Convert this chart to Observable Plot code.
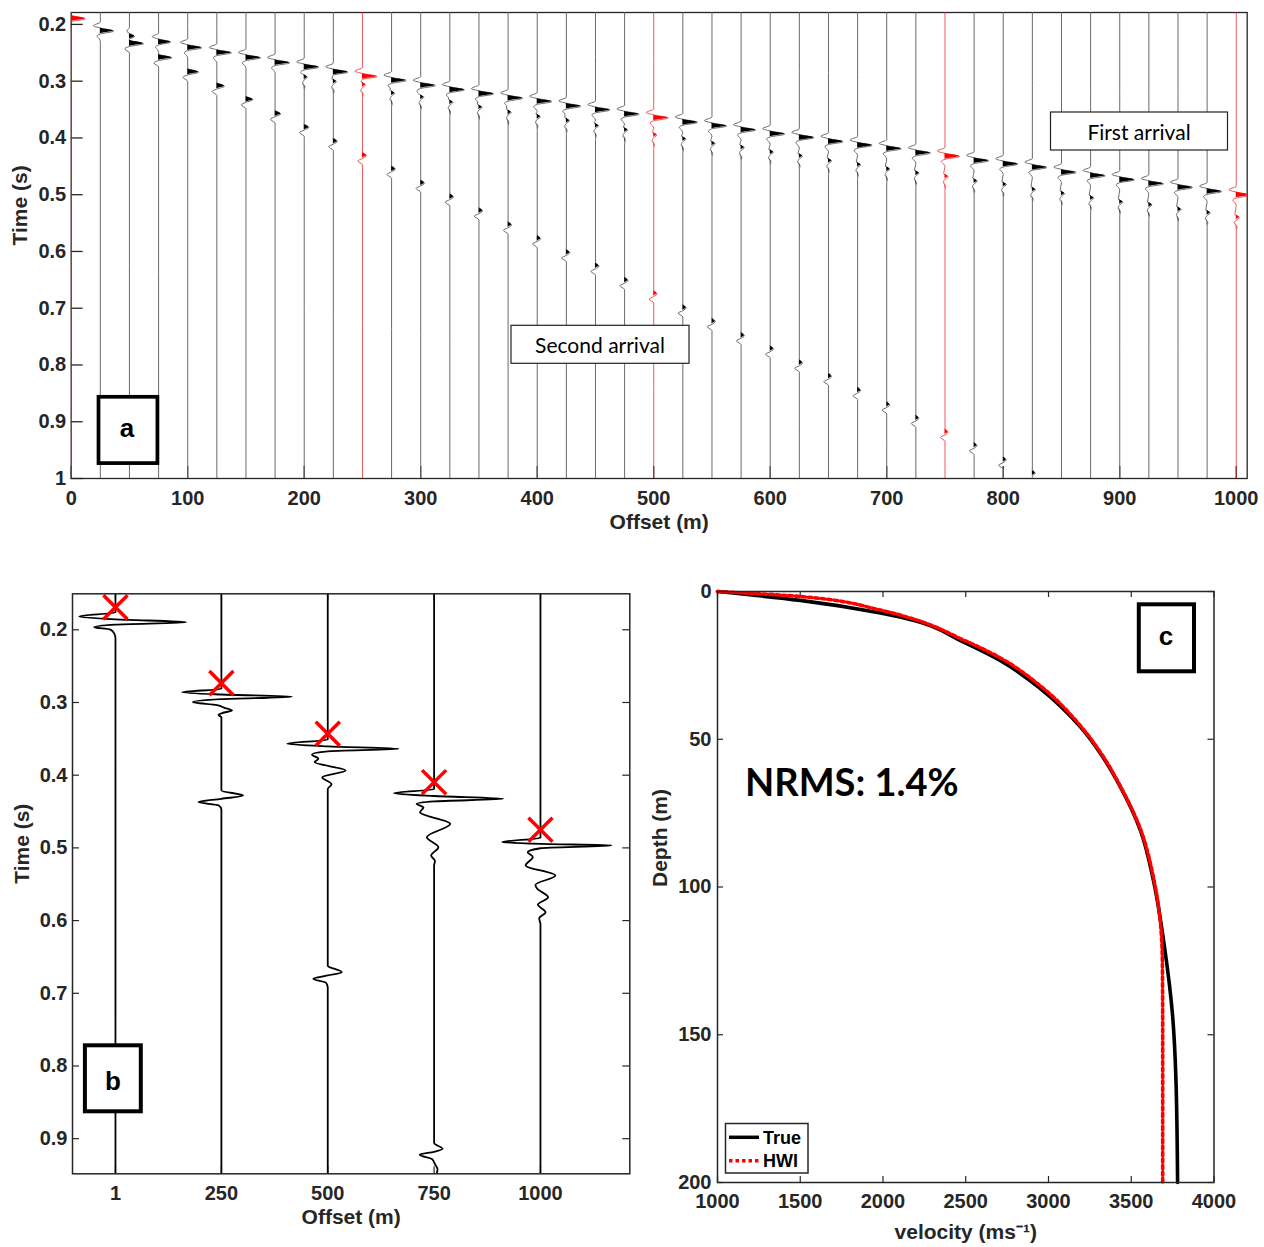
<!DOCTYPE html>
<html>
<head>
<meta charset="utf-8">
<script src="https://cdn.jsdelivr.net/npm/d3@7"></script>
<script src="https://cdn.jsdelivr.net/npm/@observablehq/plot@0.6"></script>
<style>
  body { margin: 0; background: #fff; }
  #wrap { position: relative; width: 1264px; height: 1247px; overflow: hidden; background: #fff; }
  .panel { position: absolute; }
  #overlay { position: absolute; left: 0; top: 0; }
</style>
</head>
<body>
<div id="wrap">
  <div id="pa" class="panel" style="left:0px;top:0px"></div>
  <div id="pb" class="panel" style="left:0px;top:560px"></div>
  <div id="pc" class="panel" style="left:640px;top:560px"></div>
  <svg id="overlay" width="1264" height="1247">
    <g font-family="Liberation Sans, Arial, sans-serif" font-weight="bold" font-size="26" text-anchor="middle" fill="#000">
      <rect x="98.5" y="396.8" width="58.9" height="66.3" fill="#fff" stroke="#000" stroke-width="3.7"/>
      <text x="127" y="437">a</text>
      <rect x="84.9" y="1045.3" width="55.9" height="66" fill="#fff" stroke="#000" stroke-width="4"/>
      <text x="113" y="1090">b</text>
      <rect x="1138.8" y="604.3" width="55.2" height="67" fill="#fff" stroke="#000" stroke-width="4"/>
      <text x="1166" y="645">c</text>
    </g>
    <g font-family="Lato, 'Open Sans', sans-serif" font-size="21" text-anchor="middle" fill="#000">
      <rect x="1050.5" y="112" width="177" height="38" fill="#fff" stroke="#222" stroke-width="1.2"/>
      <text x="1139" y="139.5">First arrival</text>
      <rect x="511" y="325.3" width="178" height="38" fill="#fff" stroke="#222" stroke-width="1.2"/>
      <text x="600" y="352.5">Second arrival</text>
    </g>
    <text x="745" y="796" font-family="Lato, 'Open Sans', sans-serif" font-weight="bold" font-size="38" fill="#000">NRMS: 1.4%</text>
    <g font-family="Liberation Sans, Arial, sans-serif" font-weight="bold" font-size="18" fill="#000">
      <rect x="725.5" y="1123.5" width="82.5" height="49.5" fill="#fff" stroke="#262626" stroke-width="1.5"/>
      <line x1="729" x2="759" y1="1137.3" y2="1137.3" stroke="#000" stroke-width="3.5"/>
      <line x1="729" x2="759" y1="1160.7" y2="1160.7" stroke="red" stroke-width="3.5" stroke-dasharray="3.5,3"/>
      <text x="763" y="1143.5">True</text>
      <text x="763" y="1167">HWI</text>
    </g>
  </svg>
</div>
<script>
// ================= Panel a: shot gather =================
const offsetsA = [0,25,50,75,100,125,150,175,200,225,250,275,300,325,350,375,400,425,450,475,500,525,550,575,600,625,650,675,700,725,750,775,800,825,850,875,900,925,950,975,1000];
const redOffsetsA = [0,250,500,750,1000];
const firstArrivalA = [0.190,0.2118,0.2212,0.2312,0.2412,0.2500,0.2589,0.2677,0.2754,0.2842,0.2919,0.2989,0.3078,0.3154,0.3225,0.3302,0.3360,0.3443,0.3508,0.3584,0.3649,0.3726,0.3790,0.3861,0.3932,0.3996,0.4067,0.4132,0.4191,0.4267,0.4326,0.4403,0.4462,0.4521,0.4609,0.4668,0.4739,0.4809,0.4874,0.4945,0.5009];
const firstAmpA = [12,11.5,4.5,10.5,12,12.5,12.5,12.5,12.5,12.5,12.5,12.5,12.5,12.5,12.5,12.5,12.5,12.5,12.5,12.5,12.5,12.5,12.5,12.5,12.5,12.5,12.5,12.5,12.5,12.5,12.5,12.5,12.5,12.5,12.5,12.5,12.5,12.5,12.5,12.5,12];
const codaTimeA = [null,null,null,null,null,null,null,null,0.293,0.3007,0.3065,0.3213,0.3284,0.3372,0.3460,0.3549,0.3625,0.3696,0.3785,0.3861,0.3949,0.402,0.410,0.417,0.425,0.432,0.4403,0.4474,0.455,0.462,0.468,0.476,0.482,0.491,0.498,0.506,0.513,0.518,0.526,0.532,0.5399];
const secondTimeA = [null,null,0.2341,0.2589,0.2842,0.3090,0.3325,0.3578,0.3814,0.4061,0.4314,0.4550,0.4797,0.5039,0.5286,0.5534,0.5775,0.6022,0.6258,0.6511,0.6747,0.6994,0.7235,0.7483,0.7718,0.7966,0.8201,0.8449,0.8702,0.8938,0.9185,0.9420,0.9673,0.9909,null,null,null,null,null,null,null];
const secondAmpA = [null,null,12,11.5,9.4,6.6,6,4.9,4,3.4,3.5,3.2,3.2,3.1,3.1,3,3,3,3,2.9,2.9,2.9,2.8,2.8,2.8,2.7,2.7,2.7,2.6,2.6,2.6,2.5,2.5,2.5,null,null,null,null,null,null,null];
// wavelet shapes: [time from peak (s), amplitude]
const firstWaveletA = [[-0.016,0],[-0.0095,-0.52],[-0.0055,0],[0,1],[0.005,0],[0.009,-0.25],[0.013,-0.1],[0.018,0]]; // fraction of peak
const codaWaveletA = [[-0.005,-1.2],[0,2.7],[0.0048,0],[0.0105,-1.4],[0.017,0.6],[0.024,0]]; // metres
const secondWaveletA = [[-0.0065,0],[0,1],[0.0048,0],[0.0092,-4],[0.016,0]]; // peak scaled, trough in metres
const xTicksA = [0,100,200,300,400,500,600,700,800,900,1000];
const yTicksA = [0.2,0.3,0.4,0.5,0.6,0.7,0.8,0.9,1];
const xDomainA = [0, 1009.4];
const yDomainA = [0.179, 1.0];

// ================= Panel b: selected traces =================
const offsetsB = [1,250,500,750,1000];
const traceB1 = [[0.1505,0],[0.176,0],[0.1817,-85],[0.1857,0],[0.1896,166],[0.1930,0],[0.1964,-50],[0.1995,-13],[0.205,-3],[0.212,0],[0.9483,0]];
const traceB250 = [[0.1505,0],[0.281,0],[0.2860,-92],[0.2890,0],[0.2920,166],[0.2955,0],[0.2996,-67],[0.3035,-10],[0.307,6],[0.311,25],[0.3145,2],[0.317,-7],[0.3205,0],[0.421,0],[0.428,51],[0.4325,0],[0.4370,-54],[0.4415,-7],[0.447,0],[0.9483,0]];
const traceB500 = [[0.1505,0],[0.351,0],[0.3568,-95],[0.3603,0],[0.3637,167],[0.3672,0],[0.3715,-37],[0.3775,-22],[0.382,-31],[0.3935,42],[0.4027,-13],[0.4125,9],[0.419,0],[0.662,0],[0.671,33],[0.6755,0],[0.680,-34],[0.6855,-4],[0.692,0],[0.9483,0]];
const traceB750 = [[0.1505,0],[0.419,0],[0.4247,-94],[0.4286,0],[0.4325,163],[0.436,0],[0.4394,-41],[0.4445,-25],[0.4509,-33],[0.4669,38],[0.4853,-17],[0.499,10],[0.5105,-7],[0.518,2],[0.524,0],[0.906,0],[0.914,20],[0.918,0],[0.922,-34],[0.928,-5],[0.935,2],[0.942,8],[0.9483,6]];
const traceB1000 = [[0.1505,0],[0.486,0],[0.4921,-90],[0.4945,0],[0.4967,167],[0.5005,0],[0.5059,-30],[0.5125,-18],[0.5242,-35],[0.538,35],[0.551,-12],[0.556,-8],[0.568,18],[0.578,-6],[0.5885,12],[0.597,-3],[0.605,0],[0.9483,0]];
const tracesB = [traceB1, traceB250, traceB500, traceB750, traceB1000];
const pickTimesB = [0.169,0.2734,0.343,0.4096,0.4751];
const xTicksB = [1,250,500,750,1000];
const yTicksB = [0.2,0.3,0.4,0.5,0.6,0.7,0.8,0.9];
const xDomainB = [-100, 1210];
const yDomainB = [0.1505, 0.9483];

// ================= Panel c: velocity profiles =================
const depthTrue = [0,3,7.3,10,16.6,23.4,32.9,45.9,54.9,66.2,80.9,98,120,143,165,200];
const velTrue   = [1000,1500,1985,2200,2468,2710,2952,3194,3315,3435,3556,3635,3700,3749,3770,3780];
const depthHWI  = [0,1.7,6.3,9.6,16,22.5,32,45.5,54.5,66,80.5,97,110,125,150,200];
const velHWI    = [1000,1500,1985,2200,2470,2710,2952,3194,3315,3435,3556,3635,3672,3688,3690,3690];
const xTicksC = [1000,1500,2000,2500,3000,3500,4000];
const yTicksC = [0,50,100,150,200];

// ---------------- common ----------------
const INK = "#262626";
const baseStyle = {fontFamily: "Liberation Sans, Arial, sans-serif", fontSize: "20px", fontWeight: "bold", color: INK, background: "transparent", overflow: "visible"};
const fmt1 = d => d === 1 ? "1" : d.toFixed(1);
const CURVE = "monotone-y";

// ---------------- build panel a rows ----------------
const rowsA = [];
offsetsA.forEach((off, i) => {
  const t1 = firstArrivalA[i], A1 = firstAmpA[i], tc = codaTimeA[i], t2 = secondTimeA[i], A2 = secondAmpA[i];
  const next = Math.min(tc ?? Infinity, t2 ?? Infinity);
  const k = [[yDomainA[0], 0]];
  for (const [dt, f] of firstWaveletA) if (dt <= 0.005 || t1 + dt < next - 0.008) k.push([t1 + dt, f * A1]);
  if (tc != null) for (const [dt, a] of codaWaveletA) if (dt <= 0.0048 || tc + dt < (t2 ?? Infinity) - 0.008) k.push([tc + dt, a]);
  if (t2 != null) secondWaveletA.forEach(([dt, a], j) => k.push([t2 + dt, j === 1 ? a * A2 : a]));
  k.push([yDomainA[1], 0]);
  k.sort((a, b) => a[0] - b[0]);
  const red = redOffsetsA.includes(off);
  let last = -Infinity;
  for (const [t, amp] of k) if (t >= yDomainA[0] && t <= yDomainA[1] && t > last + 1e-6) { rowsA.push({off, t, amp, red}); last = t; }
});

const WA = 1264, HA = 540, mLA = 70.7, mRA = 17.3, mTA = 12, mBA = 62;
const innerWA = WA - mLA - mRA, innerHA = HA - mTA - mBA;
const plotA = Plot.plot({
  width: WA, height: HA,
  marginLeft: mLA, marginRight: mRA, marginTop: mTA, marginBottom: mBA,
  style: baseStyle,
  x: {domain: xDomainA},
  y: {domain: yDomainA, reverse: true},
  marks: [
    Plot.frame({stroke: INK, strokeWidth: 1.3}),
    Plot.ruleX(xTicksA, {x: d => d, insetTop: innerHA - 12, stroke: INK, strokeWidth: 1.3}),
    Plot.ruleY(yTicksA, {y: d => d, insetRight: innerWA - 12, stroke: INK, strokeWidth: 1.3}),
    Plot.line(rowsA.filter(d => !d.red), {x: d => d.off + d.amp, y: "t", z: "off", stroke: "#6a6a6a", strokeWidth: 1, curve: CURVE, clip: true}),
    Plot.areaX(rowsA.filter(d => !d.red), {y: "t", x1: "off", x2: d => d.off + Math.max(0, d.amp), z: "off", fill: "black", curve: CURVE, clip: true}),
    Plot.line(rowsA.filter(d => d.red), {x: d => d.off + d.amp, y: "t", z: "off", stroke: "#e83030", strokeWidth: 0.8, curve: CURVE, clip: true}),
    Plot.areaX(rowsA.filter(d => d.red), {y: "t", x1: "off", x2: d => d.off + Math.max(0, d.amp), z: "off", fill: "red", curve: CURVE, clip: true}),
    Plot.axisX({ticks: xTicksA, tickSize: 0, tickPadding: 12, tickFormat: d => String(d), label: null}),
    Plot.axisY({ticks: yTicksA, tickSize: 0, tickPadding: 5, tickFormat: fmt1, label: null}),
    Plot.text(["Offset (m)"], {frameAnchor: "bottom", dy: 50, fontSize: 21, fill: INK}),
    Plot.text(["Time (s)"], {frameAnchor: "left", dx: -50.7, rotate: -90, fontSize: 21, fill: INK})
  ]
});
document.getElementById("pa").appendChild(plotA);

// ---------------- panel b ----------------
const rowsB = [];
tracesB.forEach((tr, i) => tr.forEach(([t, amp]) => rowsB.push({off: offsetsB[i], t, amp})));
const picksB = offsetsB.map((off, i) => ({off, t: pickTimesB[i]}));
const WB = 640, HB = 687, mLB = 72, mRB = 10.7, mTB = 33.3, mBB = 73.7;
const innerWB = WB - mLB - mRB, innerHB = HB - mTB - mBB;
const plotB = Plot.plot({
  width: WB, height: HB,
  marginLeft: mLB, marginRight: mRB, marginTop: mTB, marginBottom: mBB,
  style: baseStyle,
  x: {domain: xDomainB},
  y: {domain: yDomainB, reverse: true},
  marks: [
    Plot.ruleX(xTicksB, {x: d => d, insetTop: innerHB - 7, stroke: INK, strokeWidth: 1.2}),
    Plot.ruleX(xTicksB, {x: d => d, insetBottom: innerHB - 7, stroke: INK, strokeWidth: 1.2}),
    Plot.ruleY(yTicksB, {y: d => d, insetRight: innerWB - 7, stroke: INK, strokeWidth: 1.2}),
    Plot.ruleY(yTicksB, {y: d => d, insetLeft: innerWB - 7, stroke: INK, strokeWidth: 1.2}),
    Plot.line(rowsB, {x: d => d.off + d.amp, y: "t", z: "off", stroke: "#000", strokeWidth: 1.8, curve: CURVE, clip: true}),
    Plot.dot(picksB, {x: "off", y: "t", symbol: "times", r: 11, stroke: "red", strokeWidth: 3.5}),
    Plot.frame({stroke: INK, strokeWidth: 1.5}),
    Plot.axisX({ticks: xTicksB, tickSize: 0, tickPadding: 12, tickFormat: d => String(d), label: null}),
    Plot.axisY({ticks: yTicksB, tickSize: 0, tickPadding: 5, tickFormat: fmt1, label: null}),
    Plot.text(["Offset (m)"], {frameAnchor: "bottom", dy: 50.5, fontSize: 21, fill: INK}),
    Plot.text(["Time (s)"], {frameAnchor: "left", dx: -50, rotate: -90, fontSize: 21, fill: INK})
  ]
});
document.getElementById("pb").appendChild(plotB);

// ---------------- panel c ----------------
const rowsTrue = depthTrue.map((d, i) => ({d, v: velTrue[i]}));
const rowsHWI = depthHWI.map((d, i) => ({d, v: velHWI[i]}));
const WC = 624, HC = 687, mLC = 77, mRC = 50.5, mTC = 31, mBC = 65;
const innerWC = WC - mLC - mRC, innerHC = HC - mTC - mBC;
const plotC = Plot.plot({
  width: WC, height: HC,
  marginLeft: mLC, marginRight: mRC, marginTop: mTC, marginBottom: mBC,
  style: baseStyle,
  x: {domain: [1000, 4000]},
  y: {domain: [0, 200], reverse: true},
  marks: [
    Plot.ruleX(xTicksC, {x: d => d, insetTop: innerHC - 6, stroke: INK, strokeWidth: 1.2}),
    Plot.ruleX(xTicksC, {x: d => d, insetBottom: innerHC - 6, stroke: INK, strokeWidth: 1.2}),
    Plot.ruleY(yTicksC, {y: d => d, insetRight: innerWC - 6, stroke: INK, strokeWidth: 1.2}),
    Plot.ruleY(yTicksC, {y: d => d, insetLeft: innerWC - 6, stroke: INK, strokeWidth: 1.2}),
    Plot.line(rowsTrue, {x: "v", y: "d", stroke: "#000", strokeWidth: 3.6, curve: CURVE}),
    Plot.line(rowsHWI, {x: "v", y: "d", stroke: "red", strokeWidth: 3.6, strokeDasharray: "3.5,3", curve: CURVE}),
    Plot.frame({stroke: INK, strokeWidth: 1.5}),
    Plot.axisX({ticks: xTicksC, tickSize: 0, tickPadding: 11, tickFormat: d => String(d), label: null}),
    Plot.axisY({ticks: yTicksC, tickSize: 0, tickPadding: 6, tickFormat: d => String(d), label: null}),
    Plot.text(["velocity (ms⁻¹)"], {frameAnchor: "bottom", dy: 56, fontSize: 21, fill: INK}),
    Plot.text(["Depth (m)"], {frameAnchor: "left", dx: -57, rotate: -90, fontSize: 21, fill: INK})
  ]
});
document.getElementById("pc").appendChild(plotC);
</script>
</body>
</html>
